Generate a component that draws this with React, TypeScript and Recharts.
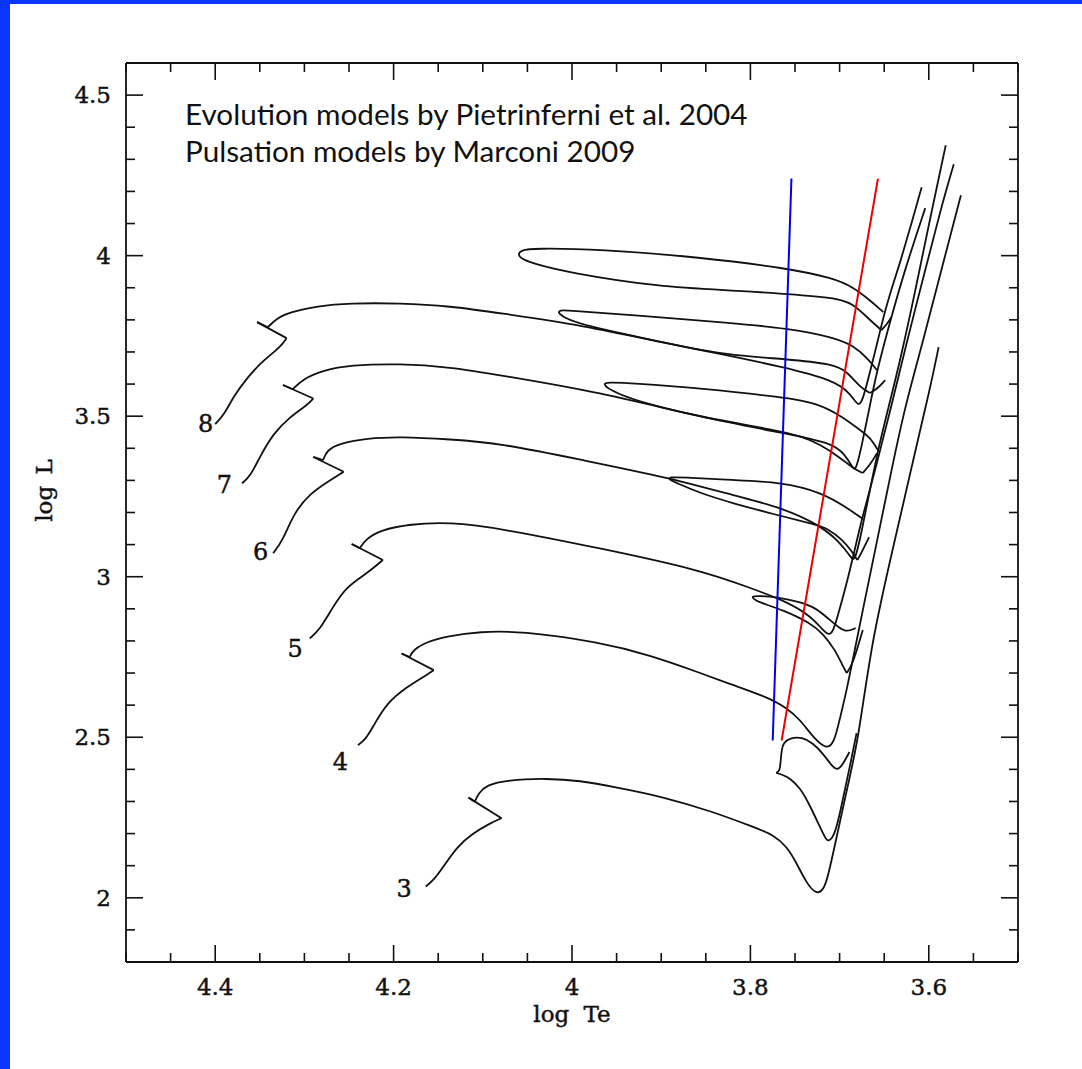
import React from 'react';
import { LineChart, Line, XAxis, YAxis, Label } from 'recharts';

// tick values (log Te along x, log L along y)
const xTicks = [3.5, 3.55, 3.6, 3.65, 3.7, 3.75, 3.8, 3.85, 3.9, 3.95, 4, 4.05, 4.1, 4.15, 4.2, 4.25, 4.3, 4.35, 4.4, 4.45, 4.5];
const yTicks = [1.8, 1.9, 2, 2.1, 2.2, 2.3, 2.4, 2.5, 2.6, 2.7, 2.8, 2.9, 3, 3.1, 3.2, 3.3, 3.4, 3.5, 3.6, 3.7, 3.8, 3.9, 4, 4.1, 4.2, 4.3, 4.4, 4.5, 4.6];

const masses = ['8', '7', '6', '5', '4', '3'];

// H-burning tracks: ZAMS -> hook -> crossing -> RGB  [logTe, logL]
const h8 = [[4.400,3.475],[4.389,3.509],[4.380,3.559],[4.364,3.621],[4.346,3.674],[4.327,3.715],[4.320,3.743],[4.353,3.793],[4.341,3.777],[4.331,3.805],[4.316,3.824],[4.286,3.843],[4.249,3.852],[4.193,3.852],[4.137,3.843],[4.081,3.821],[3.988,3.783],[3.894,3.727],[3.837,3.696],[3.763,3.653],[3.707,3.612],[3.688,3.572],[3.679,3.528],[3.674,3.550],[3.666,3.637],[3.657,3.737],[3.649,3.830],[3.638,3.930],[3.632,3.980],[3.621,4.085],[3.608,4.213]];
const h7 = [[4.370,3.291],[4.361,3.311],[4.350,3.373],[4.335,3.446],[4.316,3.498],[4.297,3.534],[4.290,3.555],[4.324,3.597],[4.313,3.584],[4.301,3.617],[4.279,3.643],[4.249,3.659],[4.193,3.664],[4.137,3.653],[4.081,3.628],[3.969,3.575],[3.856,3.497],[3.763,3.447],[3.707,3.416],[3.694,3.379],[3.686,3.344],[3.682,3.326],[3.675,3.410],[3.666,3.534],[3.658,3.643],[3.643,3.799],[3.627,3.955],[3.604,4.148]];
const h6 = [[4.335,3.073],[4.324,3.114],[4.312,3.197],[4.294,3.259],[4.271,3.301],[4.256,3.327],[4.290,3.373],[4.279,3.363],[4.275,3.394],[4.260,3.415],[4.230,3.431],[4.193,3.436],[4.137,3.428],[4.081,3.416],[3.988,3.363],[3.894,3.310],[3.812,3.248],[3.767,3.217],[3.722,3.161],[3.700,3.108],[3.688,3.064],[3.683,3.042],[3.675,3.145],[3.666,3.270],[3.657,3.394],[3.646,3.519],[3.632,3.674],[3.615,3.892],[3.599,4.110],[3.581,4.344]];
const h5 = [[4.294,2.808],[4.283,2.834],[4.268,2.906],[4.253,2.969],[4.230,3.010],[4.212,3.052],[4.247,3.102],[4.238,3.089],[4.231,3.117],[4.215,3.145],[4.182,3.164],[4.137,3.170],[4.081,3.151],[3.969,3.089],[3.856,3.021],[3.800,2.965],[3.763,2.927],[3.733,2.880],[3.719,2.834],[3.709,2.809],[3.702,2.880],[3.694,2.958],[3.683,3.083],[3.675,3.182],[3.660,3.332],[3.643,3.519],[3.627,3.706],[3.604,3.955],[3.587,4.141],[3.572,4.285]];
const h4 = [[4.240,2.476],[4.232,2.491],[4.223,2.533],[4.208,2.606],[4.185,2.657],[4.163,2.694],[4.155,2.709],[4.191,2.761],[4.182,2.750],[4.178,2.772],[4.163,2.797],[4.140,2.815],[4.103,2.829],[4.058,2.831],[3.969,2.796],[3.913,2.756],[3.856,2.700],[3.820,2.663],[3.781,2.625],[3.759,2.591],[3.744,2.554],[3.730,2.501],[3.714,2.460],[3.706,2.485],[3.700,2.554],[3.692,2.647],[3.683,2.772],[3.674,2.896],[3.659,3.098],[3.643,3.316],[3.627,3.528],[3.606,3.737],[3.586,3.955],[3.564,4.188]];
const h3 = [[4.164,2.035],[4.155,2.055],[4.144,2.097],[4.129,2.159],[4.111,2.201],[4.092,2.232],[4.079,2.248],[4.116,2.312],[4.109,2.299],[4.105,2.325],[4.096,2.351],[4.073,2.367],[4.028,2.372],[3.991,2.365],[3.954,2.346],[3.898,2.315],[3.842,2.268],[3.797,2.221],[3.774,2.196],[3.759,2.159],[3.748,2.107],[3.737,2.045],[3.726,2.010],[3.718,2.024],[3.713,2.066],[3.704,2.180],[3.692,2.336],[3.679,2.491],[3.664,2.803],[3.638,3.114],[3.615,3.394],[3.599,3.581],[3.589,3.715]];

// He-burning tracks: blue loops
const he8 = [[3.651,3.824],[3.666,3.861],[3.685,3.902],[3.707,3.930],[3.759,3.961],[3.856,3.995],[3.969,4.020],[4.044,4.023],[4.057,4.017],[4.061,4.004],[4.056,3.989],[4.044,3.976],[4.006,3.948],[3.901,3.902],[3.820,3.892],[3.707,3.871],[3.685,3.852],[3.666,3.799],[3.653,3.768],[3.646,3.790],[3.642,3.808]];
const he7 = [[3.658,3.643],[3.669,3.681],[3.685,3.721],[3.707,3.746],[3.759,3.774],[3.820,3.790],[3.932,3.815],[4.006,3.830],[4.013,3.830],[4.016,3.824],[4.010,3.808],[3.988,3.783],[3.894,3.727],[3.826,3.690],[3.759,3.678],[3.707,3.662],[3.692,3.640],[3.677,3.590],[3.666,3.572],[3.657,3.587],[3.649,3.612]];
const he6 = [[3.657,3.394],[3.666,3.435],[3.677,3.456],[3.696,3.497],[3.725,3.541],[3.763,3.559],[3.856,3.587],[3.932,3.603],[3.961,3.606],[3.965,3.600],[3.957,3.581],[3.932,3.550],[3.856,3.497],[3.770,3.456],[3.744,3.438],[3.722,3.413],[3.700,3.372],[3.685,3.338],[3.674,3.323],[3.666,3.348],[3.658,3.385]];
const he5 = [[3.675,3.182],[3.688,3.207],[3.719,3.263],[3.767,3.295],[3.820,3.301],[3.879,3.310],[3.890,3.310],[3.892,3.304],[3.882,3.291],[3.856,3.260],[3.820,3.229],[3.770,3.192],[3.725,3.161],[3.714,3.151],[3.696,3.114],[3.686,3.077],[3.680,3.052],[3.674,3.083],[3.667,3.123]];
const he4 = [[3.682,2.840],[3.692,2.828],[3.700,2.840],[3.711,2.865],[3.726,2.902],[3.744,2.921],[3.771,2.937],[3.789,2.940],[3.799,2.940],[3.796,2.930],[3.791,2.921],[3.763,2.896],[3.733,2.856],[3.719,2.824],[3.705,2.772],[3.697,2.725],[3.692,2.700],[3.686,2.725],[3.679,2.787],[3.674,2.834]];
const he3 = [[3.689,2.454],[3.696,2.417],[3.702,2.398],[3.707,2.404],[3.719,2.451],[3.730,2.482],[3.742,2.501],[3.756,2.498],[3.763,2.482],[3.765,2.460],[3.766,2.429],[3.767,2.395],[3.771,2.389],[3.763,2.382],[3.756,2.373],[3.744,2.342],[3.733,2.286],[3.722,2.220],[3.716,2.186],[3.713,2.174],[3.706,2.192],[3.700,2.258],[3.693,2.351],[3.687,2.429],[3.681,2.513]];

// instability strip edges (Marconi 2009)
const blueEdge = [[3.775, 2.49], [3.754, 4.24]];
const redEdge = [[3.765, 2.49], [3.657, 4.24]];

// indices of sharp corners (hook turn points, V's) where the smooth curve is broken
const hCorners = [[6, 7, 8], [6, 7, 8], [5, 6, 7], [5, 6, 7], [6, 7, 8], [6, 7, 8]];
const heCorners = [[18], [18], [18], [1, 16], [16], [12]];

const hTracks = [h8, h7, h6, h5, h4, h3];
const heTracks = [he8, he7, he6, he5, he4, he3];

// where each mass number sits relative to the ZAMS end
const labelShift = [
  { dx: -2, dy: 8 },
  { dx: -10, dy: 10 },
  { dx: -5, dy: 7 },
  { dx: -7, dy: 19 },
  { dx: -10, dy: 25 },
  { dx: -14, dy: 10 },
];

const pts = (a: number[][]) => a.map(([T, L]) => ({ T, L }));

const pieces = (t: number[][], cuts: number[]) => {
  const idx = [0, ...cuts, t.length - 1];
  const out: number[][][] = [];
  for (let k = 0; k < idx.length - 1; k++) out.push(t.slice(idx[k], idx[k + 1] + 1));
  return out;
};

const SERIF = 'DejaVu Serif, serif';
const INK = '#111';
// slightly heavier glyphs, closer to the plotting-package font
const serifText = { fontFamily: SERIF, fill: INK, stroke: INK, strokeWidth: 0.45 };

const fmt = (v: number) => String(Math.round(v * 100) / 100);
const majorX = (v: number) => Math.abs(v / 0.2 - Math.round(v / 0.2)) < 1e-6;
const majorY = (v: number) => Math.abs(v / 0.5 - Math.round(v / 0.5)) < 1e-6;

const BottomTick = (p: any) => {
  const v = p.payload.value;
  const m = majorX(v);
  return (
    <g>
      <line x1={p.x} x2={p.x} y1={p.y} y2={p.y - (m ? 17 : 9)} stroke={INK} strokeWidth={1.6} />
      {m && (
        <text x={p.x} y={p.y + 33} textAnchor="middle" fontSize={23} {...serifText}>
          {fmt(v)}
        </text>
      )}
    </g>
  );
};

const TopTick = (p: any) => {
  const m = majorX(p.payload.value);
  return <line x1={p.x} x2={p.x} y1={p.y} y2={p.y + (m ? 17 : 9)} stroke={INK} strokeWidth={1.6} />;
};

const LeftTick = (p: any) => {
  const v = p.payload.value;
  const m = majorY(v);
  return (
    <g>
      <line x1={p.x} x2={p.x + (m ? 17 : 9)} y1={p.y} y2={p.y} stroke={INK} strokeWidth={1.6} />
      {m && (
        <text x={p.x - 15} y={p.y + 8} textAnchor="end" fontSize={23} {...serifText}>
          {fmt(v)}
        </text>
      )}
    </g>
  );
};

const RightTick = (p: any) => {
  const m = majorY(p.payload.value);
  return <line x1={p.x} x2={p.x - (m ? 17 : 9)} y1={p.y} y2={p.y} stroke={INK} strokeWidth={1.6} />;
};

const XTitle = (p: any) => {
  const vb = p.viewBox;
  return (
    <text x={vb.x + vb.width / 2} y={vb.y + 60} textAnchor="middle" fontSize={23} wordSpacing={7} {...serifText}>
      log Te
    </text>
  );
};

const YTitle = (p: any) => {
  const vb = p.viewBox;
  const cx = vb.x + vb.width - 74;
  const cy = vb.y + vb.height / 2 - 22;
  return (
    <text x={cx} y={cy} transform={`rotate(-90, ${cx}, ${cy})`} textAnchor="middle" fontSize={23} wordSpacing={4} {...serifText}>
      log L
    </text>
  );
};

const massDot = (i: number) => (p: any) => {
  if (p.index !== 0) return <g key={`m${i}-${p.index}`} />;
  const s = labelShift[i];
  return (
    <text key={`m${i}-0`} x={p.cx + s.dx} y={p.cy + s.dy} textAnchor="end" fontSize={24} {...serifText}>
      {masses[i]}
    </text>
  );
};

const trackLine = (key: string, seg: number[][], dot: any) => (
  <Line
    key={key}
    xAxisId="b"
    yAxisId="l"
    data={pts(seg)}
    dataKey="L"
    type="basis"
    stroke={INK}
    strokeWidth={1.8}
    dot={dot}
    activeDot={false}
    isAnimationActive={false}
  />
);

export default function App() {
  return (
    <div style={{ position: 'absolute', left: 0, top: 0, width: 1082, height: 1069, background: '#fff', overflow: 'hidden' }}>
      <LineChart width={1082} height={1069} margin={{ top: 53, right: 54, bottom: 57, left: 66 }}>
        <XAxis
          xAxisId="b"
          dataKey="T"
          type="number"
          domain={[3.5, 4.5]}
          reversed
          allowDataOverflow
          ticks={xTicks}
          interval={0}
          height={50}
          tickSize={0}
          tickMargin={0}
          tick={<BottomTick />}
          axisLine={{ stroke: INK, strokeWidth: 1.8 }}
        >
          <Label content={<XTitle />} />
        </XAxis>
        <XAxis
          xAxisId="t"
          orientation="top"
          dataKey="T"
          type="number"
          domain={[3.5, 4.5]}
          reversed
          allowDataOverflow
          ticks={xTicks}
          interval={0}
          height={10}
          tickSize={0}
          tickMargin={0}
          tick={<TopTick />}
          axisLine={{ stroke: INK, strokeWidth: 1.8 }}
        />
        <YAxis
          yAxisId="l"
          dataKey="L"
          type="number"
          domain={[1.8, 4.6]}
          allowDataOverflow
          ticks={yTicks}
          interval={0}
          width={60}
          tickSize={0}
          tickMargin={0}
          tick={<LeftTick />}
          axisLine={{ stroke: INK, strokeWidth: 1.8 }}
        >
          <Label content={<YTitle />} />
        </YAxis>
        <YAxis
          yAxisId="r"
          orientation="right"
          dataKey="L"
          type="number"
          domain={[1.8, 4.6]}
          allowDataOverflow
          ticks={yTicks}
          interval={0}
          width={10}
          tickSize={0}
          tickMargin={0}
          tick={<RightTick />}
          axisLine={{ stroke: INK, strokeWidth: 1.8 }}
        />

        {hTracks.map((t, i) =>
          pieces(t, hCorners[i]).map((seg, k) => trackLine(`h${i}-${k}`, seg, k === 0 ? massDot(i) : false))
        )}
        {heTracks.map((t, i) => pieces(t, heCorners[i]).map((seg, k) => trackLine(`he${i}-${k}`, seg, false)))}

        <Line xAxisId="b" yAxisId="l" data={pts(blueEdge)} dataKey="L" type="linear" stroke="#0000ee" strokeWidth={2} dot={false} activeDot={false} isAnimationActive={false} />
        <Line xAxisId="b" yAxisId="l" data={pts(redEdge)} dataKey="L" type="linear" stroke="#ee0000" strokeWidth={2} dot={false} activeDot={false} isAnimationActive={false} />
      </LineChart>

      <svg width={1082} height={1069} style={{ position: 'absolute', left: 0, top: 0, pointerEvents: 'none' }}>
        <text x={185} y={125} fontFamily="Lato, sans-serif" fontSize={29.7} fill={INK}>
          Evolution models by Pietrinferni et al. 2004
        </text>
        <text x={185} y={162} fontFamily="Lato, sans-serif" fontSize={29.7} fill={INK}>
          Pulsation models by Marconi 2009
        </text>
      </svg>
      <div style={{ position: 'absolute', left: 0, top: 0, width: 10, height: 1069, background: '#0a36ff' }} />
      <div style={{ position: 'absolute', left: 0, top: 0, width: 1082, height: 4, background: '#0a36ff' }} />
    </div>
  );
}
